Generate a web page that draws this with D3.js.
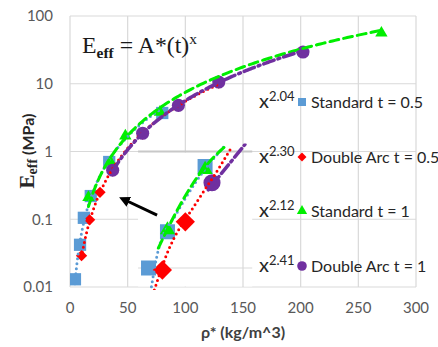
<!DOCTYPE html>
<html>
<head>
<meta charset="utf-8">
<script src="https://cdn.jsdelivr.net/npm/d3@7"></script>
<style>
body { margin: 0; background: #fff; }
svg text { font-family: Lato, "Open Sans", sans-serif; }
</style>
</head>
<body>
<svg id="chart" width="438" height="347"></svg>
<script>
// main chart: rho* (kg/m^3) vs E_eff (MPa)
var stdHalfX = [4.3, 8.7, 12, 18, 34, 80];
var stdHalfY = [0.013, 0.042, 0.105, 0.22, 0.7, 3.7];
var arcHalfX = [10, 17, 26, 37, 63, 94, 129];
var arcHalfY = [0.029, 0.098, 0.25, 0.52, 1.8, 4.7, 10.2];
var stdOneX = [16, 35, 48, 78, 270];
var stdOneY = [0.21, 0.7, 1.7, 3.8, 56];
var arcOneX = [37, 63, 94, 129, 202];
var arcOneY = [0.53, 1.86, 4.8, 10.6, 29.4];

var seriesNames = ["Standard t = 0.5", "Double Arc t = 0.5", "Standard t = 1", "Double Arc t = 1"];
var exponents = [2.04, 2.30, 2.12, 2.41];
var exponentLabels = ["2.04", "2.30", "2.12", "2.41"];

// inset close-up (log-log)
var insetStdHalfX = [2.3, 4.9, 22];
var insetStdHalfY = [0.01, 0.042, 0.55];
var insetArcHalfX = [4.0, 10];
var insetArcHalfY = [0.0092, 0.062];
var insetStdOneX = [4.9, 22];
var insetStdOneY = [0.045, 0.49];
var insetArcOneX = [29];
var insetArcOneY = [0.29];

// inset trend lines
var insetLineStdHalfX = [2.5, 3.4, 7.0, 14.9, 47];
var insetLineStdHalfY = [0.0039, 0.0204, 0.085, 0.29, 1.22];
var insetLineArcHalfX = [2.9, 4.5, 16.8, 37, 64.5];
var insetLineArcHalfY = [0.0042, 0.0149, 0.149, 0.49, 1.22];
var insetLineStdOneX = [3.4, 7.3, 12.2, 23.9, 49];
var insetLineStdOneY = [0.022, 0.1, 0.24, 0.60, 1.22];
var insetLineArcOneX = [25, 108];
var insetLineArcOneY = [0.22, 1.32];

var xTicks = [0, 50, 100, 150, 200, 250, 300];
var yTicks = [0.01, 0.1, 1, 10, 100];
var yTickLabels = ["0.01", "0.1", "1", "10", "100"];

// arrow pointing from inset to main curve (rho*, E)
var arrowX = [75.5, 41.6];
var arrowY = [0.115, 0.213];

var colors = ["#5B9BD5", "#FF0000", "#00EE00", "#7030A0"];
var grid = "#D9D9D9";

var svg = d3.select("#chart");

var x = d3.scaleLinear().domain([0, 300]).range([70, 416]);
var y = d3.scaleLog().domain([0.01, 100]).range([287, 16]);

var defs = svg.append("defs");
defs.append("clipPath").attr("id", "plotClip")
  .append("rect").attr("x", 70).attr("y", 16).attr("width", 346).attr("height", 271);

// gridlines
svg.append("g").selectAll("line").data(yTicks).enter().append("line")
  .attr("x1", 70).attr("x2", 416)
  .attr("y1", d => y(d)).attr("y2", d => y(d))
  .attr("stroke", grid).attr("stroke-width", 1.2);
svg.append("g").selectAll("line").data(xTicks).enter().append("line")
  .attr("x1", d => x(d)).attr("x2", d => x(d))
  .attr("y1", 16).attr("y2", 287)
  .attr("stroke", grid).attr("stroke-width", 1.2);

// tick labels
svg.append("g").selectAll("text").data(yTicks).enter().append("text")
  .attr("x", 53).attr("y", d => y(d)).attr("dy", "0.36em")
  .attr("text-anchor", "end").attr("font-size", 15).attr("fill", "#595959")
  .text((d, i) => yTickLabels[i]);
svg.append("g").selectAll("text").data(xTicks).enter().append("text")
  .attr("x", d => x(d)).attr("y", 313)
  .attr("text-anchor", "middle").attr("font-size", 15).attr("fill", "#595959")
  .text(d => d);

// axis titles
svg.append("text")
  .attr("transform", "translate(243,338)")
  .attr("text-anchor", "middle").attr("font-size", 16).attr("font-weight", "bold")
  .attr("fill", "#404040")
  .text("\u03C1* (kg/m^3)");

var yt = svg.append("text")
  .attr("transform", "translate(34,151) rotate(-90)")
  .attr("text-anchor", "middle").attr("font-weight", "bold").attr("fill", "#262626");
yt.append("tspan").attr("font-family", "Liberation Serif, serif").attr("font-size", 21).text("E");
yt.append("tspan").attr("font-family", "Liberation Serif, serif").attr("font-size", 14).attr("dy", 3).text("eff");
yt.append("tspan").attr("font-size", 16).attr("dy", -3).text(" (MPa)");

// equation
var eq = svg.append("text").attr("x", 82).attr("y", 53)
  .attr("font-family", "Liberation Serif, serif").attr("fill", "#1a1a1a")
  .attr("textLength", 115).attr("lengthAdjust", "spacingAndGlyphs");
eq.append("tspan").attr("font-size", 23).attr("font-family", "Liberation Serif, serif").text("E");
eq.append("tspan").attr("font-size", 15).attr("font-weight", "bold").attr("font-family", "Liberation Serif, serif").attr("dy", 5).text("eff");
eq.append("tspan").attr("font-size", 23).attr("font-family", "Liberation Serif, serif").attr("dy", -5).text(" = A*(t)");
eq.append("tspan").attr("font-size", 15).attr("font-family", "Liberation Serif, serif").attr("dy", -9).text("x");

// helpers
function pts(xs, ys) { return xs.map((v, i) => [v, ys[i]]); }

function powerFit(xs, ys, n) {
  var lnA = d3.mean(xs, (v, i) => Math.log(ys[i]) - n * Math.log(v));
  return v => Math.exp(lnA) * Math.pow(v, n);
}

var shapes = [d3.symbolSquare, d3.symbolSquare, d3.symbolTriangle, d3.symbolCircle];
var rotations = [0, 45, 0, 0];
var mainSizes = [150, 64, 66, 135];
var insetSizes = [225, 185, 100, 230];
var legendSizes = [64, 40, 46, 72];
var dashes = ["0,5", "0,5", "9,5", "11,4,2,4"];
var widths = [3, 3, 3, 3.5];

function drawMarkers(g, data, sx, sy, k, sizes) {
  g.selectAll(null).data(data).enter().append("path")
    .attr("d", d3.symbol().type(shapes[k]).size(sizes[k]))
    .attr("transform", d => "translate(" + sx(d[0]) + "," + sy(d[1]) + ") rotate(" + rotations[k] + ")")
    .attr("fill", colors[k]);
}

function drawLine(g, data, sx, sy, k, curve) {
  g.append("path")
    .datum(data)
    .attr("d", d3.line().x(d => sx(d[0])).y(d => sy(d[1])).curve(curve || d3.curveLinear))
    .attr("fill", "none")
    .attr("stroke", colors[k])
    .attr("stroke-width", widths[k])
    .attr("stroke-linecap", "round")
    .attr("stroke-dasharray", dashes[k]);
}

// main series
var mainSeries = [pts(stdHalfX, stdHalfY), pts(arcHalfX, arcHalfY), pts(stdOneX, stdOneY), pts(arcOneX, arcOneY)];
var plot = svg.append("g").attr("clip-path", "url(#plotClip)");
mainSeries.forEach((s, k) => drawMarkers(plot, s, x, y, k, mainSizes));

mainSeries.forEach((s, k) => {
  var xs = s.map(d => d[0]), ys = s.map(d => d[1]);
  var f = powerFit(xs, ys, exponents[k]);
  var lo = d3.min(xs), hi = d3.max(xs);
  var line = d3.range(0, 121).map(i => { var v = lo + (hi - lo) * i / 120; return [v, f(v)]; });
  drawLine(plot, line, x, y, k);
});

// inset
var insetBox = { x0: 59, x1: 158, y0: 0.01, y1: 1 };
var ix = d3.scaleLog().domain([10, 100]).range([x(100), x(150)]);
var iy = d3.scaleLog().domain([0.01, 1]).range([268, y(1)]);

svg.append("rect")
  .attr("x", x(insetBox.x0)).attr("y", y(insetBox.y1) + 1)
  .attr("width", x(insetBox.x1) - x(insetBox.x0))
  .attr("height", y(insetBox.y0) - y(insetBox.y1) - 1.5)
  .attr("fill", "#fff");

defs.append("clipPath").attr("id", "insetClip")
  .append("rect").attr("x", x(insetBox.x0)).attr("y", y(insetBox.y1) - 8)
  .attr("width", x(insetBox.x1) - x(insetBox.x0) + 4)
  .attr("height", y(insetBox.y0) - y(insetBox.y1) + 11);

var inset = svg.append("g");
inset.append("line")
  .attr("x1", x(insetBox.x0)).attr("x2", x(insetBox.x1))
  .attr("y1", iy(0.01)).attr("y2", iy(0.01))
  .attr("stroke", grid).attr("stroke-width", 1.2);
inset.append("line")
  .attr("x1", ix(100)).attr("x2", ix(100))
  .attr("y1", y(insetBox.y1)).attr("y2", y(insetBox.y0))
  .attr("stroke", grid).attr("stroke-width", 1.2);
inset.append("line")
  .attr("x1", x(insetBox.x0)).attr("x2", x(insetBox.x1))
  .attr("y1", y(insetBox.y1)).attr("y2", y(insetBox.y1))
  .attr("stroke", "#C8C8C8").attr("stroke-width", 2);

var insetG = inset.append("g").attr("clip-path", "url(#insetClip)");
var insetSeries = [pts(insetStdHalfX, insetStdHalfY), pts(insetArcHalfX, insetArcHalfY),
  pts(insetStdOneX, insetStdOneY), pts(insetArcOneX, insetArcOneY)];
var insetLines = [pts(insetLineStdHalfX, insetLineStdHalfY), pts(insetLineArcHalfX, insetLineArcHalfY),
  pts(insetLineStdOneX, insetLineStdOneY), pts(insetLineArcOneX, insetLineArcOneY)];
insetSeries.forEach((s, k) => drawMarkers(insetG, s, ix, iy, k, insetSizes));
insetLines.forEach((s, k) => drawLine(insetG, s, ix, iy, k, d3.curveMonotoneX));

// arrow
defs.append("marker").attr("id", "arrowHead")
  .attr("viewBox", "0 0 10 10").attr("refX", 5).attr("refY", 5)
  .attr("markerWidth", 3.6).attr("markerHeight", 3.6).attr("orient", "auto")
  .append("path").attr("d", "M0,0L10,5L0,10z").attr("fill", "#000");
svg.append("line")
  .attr("x1", x(arrowX[0])).attr("y1", y(arrowY[0]))
  .attr("x2", x(arrowX[1]) + 6).attr("y2", y(arrowY[1]) + 2.5)
  .attr("stroke", "#000").attr("stroke-width", 3)
  .attr("marker-end", "url(#arrowHead)");

// legend with trendline exponents
var legendBase = [108, 163, 217, 272];
var legend = svg.append("g");
seriesNames.forEach((name, k) => {
  var t = legend.append("text").attr("x", 259).attr("y", legendBase[k]).attr("fill", "#262626");
  t.append("tspan").attr("font-size", 20).text("x");
  t.append("tspan").attr("font-size", 13).attr("dy", -7).text(exponentLabels[k]);
  legend.append("path")
    .attr("d", d3.symbol().type(shapes[k]).size(legendSizes[k]))
    .attr("transform", "translate(302," + (legendBase[k] - 6) + ") rotate(" + rotations[k] + ")")
    .attr("fill", colors[k]);
  legend.append("text").attr("x", 311).attr("y", legendBase[k])
    .attr("font-size", 16).attr("fill", "#262626").text(name);
});
</script>
</body>
</html>
